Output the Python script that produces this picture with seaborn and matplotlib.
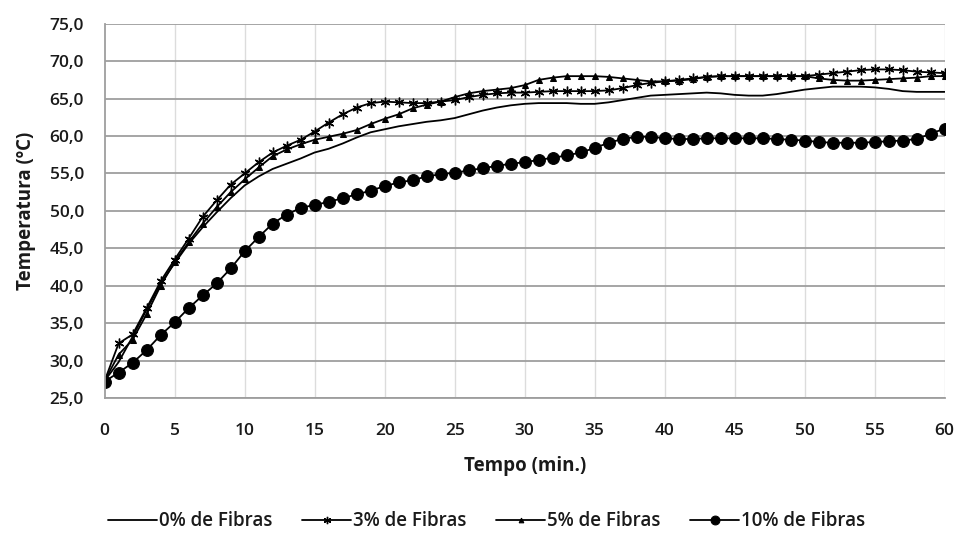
import numpy as np
import pandas as pd
import matplotlib
matplotlib.use("Agg")
import matplotlib.pyplot as plt
import seaborn as sns

tempo = list(range(0, 61))

fibras_0 = [27.3, 29.8, 33.2, 36.8, 40.3, 43.0, 45.6, 47.8, 49.8, 51.7,
            53.4, 54.6, 55.6, 56.3, 57.0, 57.8, 58.3, 59.0, 59.8, 60.5,
            60.9, 61.3, 61.6, 61.9, 62.1, 62.4, 62.9, 63.4, 63.8, 64.1,
            64.3, 64.4, 64.4, 64.4, 64.3, 64.3, 64.5, 64.8, 65.1, 65.4,
            65.5, 65.6, 65.7, 65.8, 65.7, 65.5, 65.4, 65.4, 65.6, 65.9,
            66.2, 66.4, 66.6, 66.6, 66.6, 66.5, 66.3, 66.0, 65.9, 65.9, 65.9]

fibras_3 = [27.3, 32.3, 33.5, 37.0, 40.6, 43.5, 46.3, 49.2, 51.4, 53.5,
            55.0, 56.5, 57.8, 58.7, 59.5, 60.6, 61.8, 62.9, 63.8, 64.4,
            64.6, 64.5, 64.4, 64.4, 64.6, 64.8, 65.2, 65.5, 65.7, 65.8,
            65.8, 65.9, 66.0, 66.0, 66.0, 66.0, 66.1, 66.4, 66.8, 67.1,
            67.3, 67.5, 67.7, 67.9, 68.0, 68.0, 68.0, 68.0, 68.0, 68.0,
            68.0, 68.2, 68.4, 68.6, 68.8, 68.9, 68.9, 68.8, 68.6, 68.5, 68.4]

fibras_5 = [27.3, 30.8, 32.8, 36.2, 40.0, 43.2, 45.8, 48.3, 50.5, 52.5,
            54.2, 55.8, 57.3, 58.2, 58.9, 59.5, 59.9, 60.3, 60.8, 61.6,
            62.3, 62.9, 63.7, 64.2, 64.6, 65.2, 65.7, 66.0, 66.2, 66.4,
            66.8, 67.5, 67.8, 68.0, 68.0, 68.0, 67.9, 67.7, 67.5, 67.3,
            67.3, 67.4, 67.6, 67.9, 68.0, 68.0, 68.0, 68.0, 68.0, 68.0,
            68.0, 67.7, 67.5, 67.4, 67.4, 67.5, 67.6, 67.7, 67.8, 68.0, 68.0]

fibras_10 = [27.2, 28.4, 29.7, 31.4, 33.4, 35.1, 37.0, 38.7, 40.3, 42.3,
             44.6, 46.5, 48.3, 49.5, 50.4, 50.8, 51.2, 51.7, 52.2, 52.7,
             53.3, 53.8, 54.1, 54.6, 54.9, 55.1, 55.4, 55.7, 56.0, 56.3,
             56.5, 56.8, 57.1, 57.4, 57.8, 58.4, 59.1, 59.6, 59.9, 59.9,
             59.7, 59.6, 59.6, 59.7, 59.7, 59.7, 59.7, 59.7, 59.6, 59.5,
             59.4, 59.2, 59.1, 59.1, 59.1, 59.2, 59.3, 59.4, 59.6, 60.3, 61.0]

series_labels = ["0% de Fibras", "3% de Fibras", "5% de Fibras", "10% de Fibras"]
x_ticks = list(range(0, 61, 5))
y_ticks = [25.0, 30.0, 35.0, 40.0, 45.0, 50.0, 55.0, 60.0, 65.0, 70.0, 75.0]
y_ticklabels = ["25,0", "30,0", "35,0", "40,0", "45,0", "50,0", "55,0",
                "60,0", "65,0", "70,0", "75,0"]

sns.set_style("white")
plt.rcParams['font.family'] = ['Open Sans', 'DejaVu Sans']

fig = plt.figure(figsize=(9.6, 5.4), dpi=100)
ax = fig.add_axes([0.109, 0.263, 0.875, 0.693])

styles = [
    dict(marker=None, markersize=0, linewidth=1.3),
    dict(marker=(6, 2, 0), markersize=7, markeredgewidth=1.0, linewidth=1.3),
    dict(marker="^", markersize=4.5, linewidth=1.3),
    dict(marker="o", markersize=8.5, linewidth=1.3),
]
data = [fibras_0, fibras_3, fibras_5, fibras_10]

for vals, lab, st in zip(data, series_labels, styles):
    df = pd.DataFrame({"t": tempo, "v": vals})
    kw = dict(color="black", linewidth=st["linewidth"])
    if st["marker"] is not None:
        kw.update(marker=st["marker"], markersize=st["markersize"],
                  markeredgecolor="black", markerfacecolor="black")
        if "markeredgewidth" in st:
            kw["markeredgewidth"] = st["markeredgewidth"]
    sns.lineplot(data=df, x="t", y="v", ax=ax, label=lab, **kw)

ax.set_xlim(0, 60)
ax.set_ylim(25, 75)
ax.set_xticks(x_ticks)
ax.set_xticklabels([str(v) for v in x_ticks])
ax.set_yticks(y_ticks)
ax.set_yticklabels(y_ticklabels)

# gridlines
for v in y_ticks:
    ax.axhline(v, color="#9e9e9e", linewidth=1.3, zorder=0.5)
for v in x_ticks[1:]:
    ax.axvline(v, color="#dcdcdc", linewidth=1.0, zorder=0.4)

for s in ["top", "right"]:
    ax.spines[s].set_visible(False)
ax.spines["left"].set_color("#9e9e9e")
ax.spines["left"].set_linewidth(1.3)
ax.spines["bottom"].set_color("#9e9e9e")
ax.spines["bottom"].set_linewidth(1.3)

ax.tick_params(axis="y", direction="out", length=7, width=1.3, color="#9e9e9e",
               pad=8, labelsize=12.5, labelcolor="#1a1a1a")
ax.tick_params(axis="x", length=0, pad=18, labelsize=12.5, labelcolor="#1a1a1a")
for lbl in ax.get_xticklabels() + ax.get_yticklabels():
    lbl.set_fontweight("semibold")

ax.set_xlabel("Tempo (min.)", fontsize=13.5, fontweight="bold", labelpad=12,
              color="#1a1a1a")
ax.set_ylabel("Temperatura (ºC)", fontsize=13.5, fontweight="bold", labelpad=10,
              color="#1a1a1a")

handles, labels = ax.get_legend_handles_labels()
ax.legend(handles, labels, loc="center", bbox_to_anchor=(0.455, -0.33),
          ncol=4, frameon=False, fontsize=13.5, handlelength=2.6,
          columnspacing=1.6, handletextpad=0.1, markerscale=0.75)
for t in ax.get_legend().get_texts():
    t.set_fontweight("semibold")
    t.set_color("#1a1a1a")

fig.savefig("out.png", dpi=100)
